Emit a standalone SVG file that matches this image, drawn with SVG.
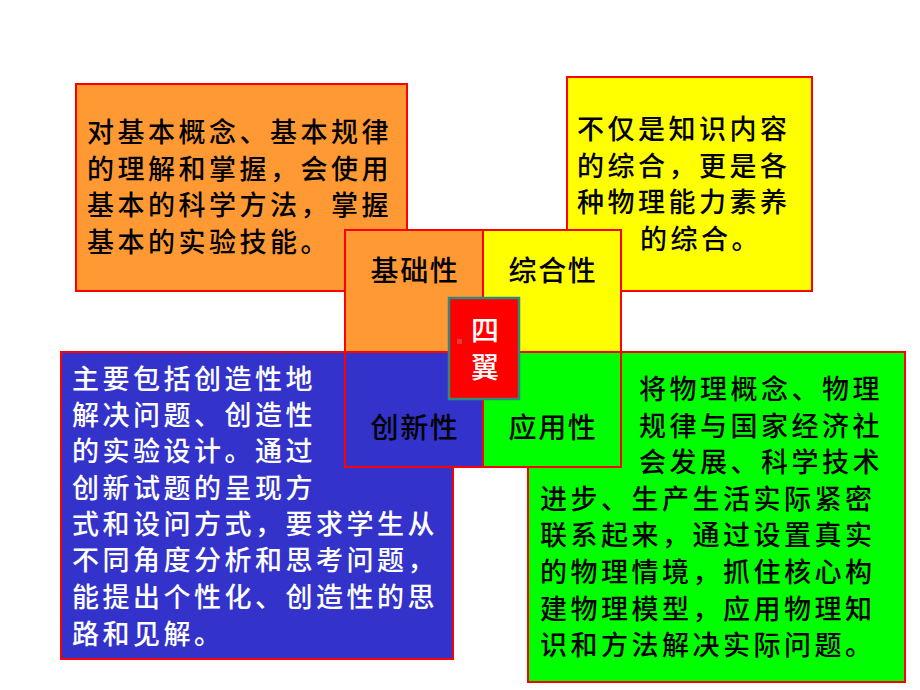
<svg xmlns="http://www.w3.org/2000/svg" width="920" height="690" viewBox="0 0 920 690">
<style>
.bx{stroke:#FF0000;stroke-width:2}
.t{font-family:"Noto Sans CJK SC","Liberation Sans",sans-serif;font-size:27px;font-weight:500;letter-spacing:3.5px;fill:#000}
.w{fill:#fff}
.lb{font-family:"Noto Sans CJK SC","Liberation Sans",sans-serif;font-size:28px;font-weight:500;letter-spacing:1.7px;text-anchor:middle;fill:#000}
.c{font-family:"Noto Sans CJK SC","Liberation Sans",sans-serif;font-size:28px;font-weight:500;text-anchor:middle;fill:#fff}
</style>
<rect width="920" height="690" fill="#fff"/>
<g id="desc-basic">
<rect class="bx" x="76" y="84" width="331" height="207" fill="#FF9933"/>
<text class="t"><tspan x="87" y="142">对基本概念、基本规律</tspan><tspan x="87" y="178.7">的理解和掌握，会使用</tspan><tspan x="87" y="215.4">基本的科学方法，掌握</tspan><tspan x="87" y="252">基本的实验技能。</tspan></text>
</g>
<g id="desc-comprehensive">
<rect class="bx" x="567" y="77" width="245" height="214" fill="#FFFF00"/>
<text class="t"><tspan x="577" y="139">不仅是知识内容</tspan><tspan x="577" y="175.5">的综合，更是各</tspan><tspan x="577" y="212">种物理能力素养</tspan><tspan x="640" y="248.5">的综合。</tspan></text>
</g>
<g id="desc-innovative">
<rect class="bx" x="61" y="352" width="392" height="307" fill="#3333CC"/>
<text class="t w"><tspan x="72" y="389">主要包括创造性地</tspan><tspan x="72" y="425">解决问题、创造性</tspan><tspan x="72" y="461">的实验设计。通过</tspan><tspan x="72" y="497.5">创新试题的呈现方</tspan><tspan x="72" y="534">式和设问方式，要求学生从</tspan><tspan x="72" y="570">不同角度分析和思考问题，</tspan><tspan x="72" y="607">能提出个性化、创造性的思</tspan><tspan x="72" y="643.5">路和见解。</tspan></text>
</g>
<g id="desc-applied">
<rect class="bx" x="528" y="352" width="377" height="330" fill="#00FF00"/>
<text class="t"><tspan x="639" y="399">将物理概念、物理</tspan><tspan x="639" y="435.5">规律与国家经济社</tspan><tspan x="639" y="472">会发展、科学技术</tspan><tspan x="540" y="509">进步、生产生活实际紧密</tspan><tspan x="540" y="545">联系起来，通过设置真实</tspan><tspan x="540" y="582">的物理情境，抓住核心构</tspan><tspan x="540" y="619">建物理模型，应用物理知</tspan><tspan x="540" y="655">识和方法解决实际问题。</tspan></text>
</g>
<g id="basic">
<rect class="bx" x="345" y="230" width="138" height="122" fill="#FF9933"/>
<text class="lb" x="415" y="281">基础性</text>
</g>
<g id="comprehensive">
<rect class="bx" x="483" y="230" width="138" height="122" fill="#FFFF00"/>
<text class="lb" x="553" y="281">综合性</text>
</g>
<g id="innovative">
<rect class="bx" x="345" y="352" width="138" height="115" fill="#3333CC"/>
<text class="lb w" x="415" y="438">创新性</text>
</g>
<g id="applied">
<rect class="bx" x="483" y="352" width="138" height="115" fill="#00FF00"/>
<text class="lb" x="553" y="438">应用性</text>
</g>
<g id="center">
<rect x="449" y="298" width="70" height="101" fill="#FF0000" stroke="#2E8B7A" stroke-width="2.5"/>
<rect x="457" y="339" width="5" height="5" fill="#E03A3A"/>
<text class="c"><tspan x="485" y="341">四</tspan><tspan x="485" y="378">翼</tspan></text>
</g>
<g id="connectors"></g>
</svg>
